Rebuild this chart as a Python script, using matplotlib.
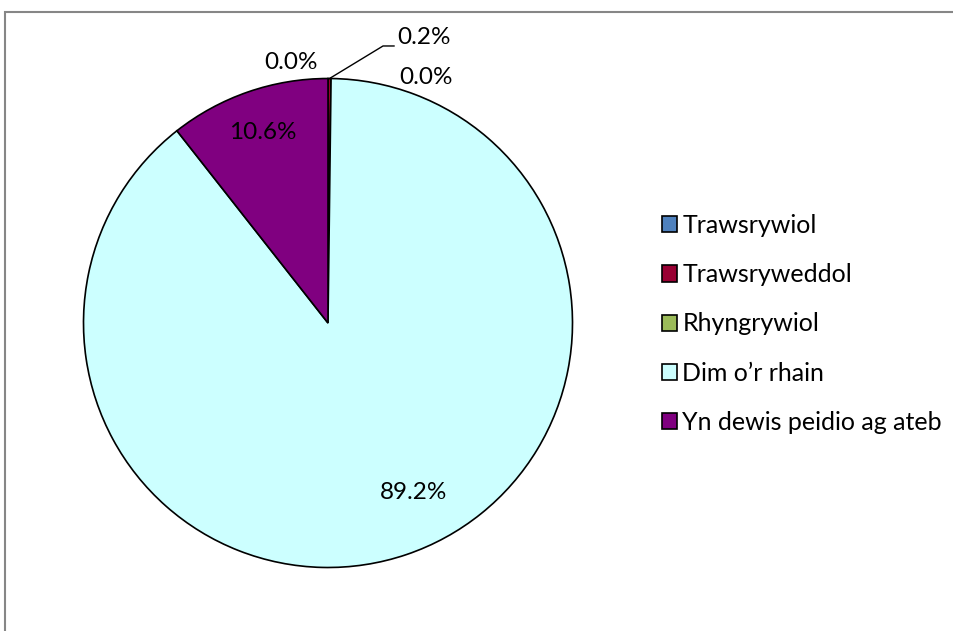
import matplotlib
matplotlib.use("Agg")
import matplotlib.pyplot as plt
from matplotlib.patches import Rectangle
import numpy as np

plt.rcParams.update({"font.family": ["Lato", "DejaVu Sans"], "font.size": 17.5})

# survey answers (percent)
categories = ["Trawsrywiol", "Trawsryweddol", "Rhyngrywiol",
              "Dim o\u2019r rhain", "Yn dewis peidio ag ateb"]
shares = [0.0, 0.2, 0.0, 89.2, 10.6]
colors = ["#4F81BD", "#990033", "#9BBB59", "#CCFFFF", "#800080"]

# label spots in pie units (radius = 1)
label_pos = [(-0.151, 1.067), (0.393, 1.166), (0.401, 1.006),
             (0.348, -0.695), (-0.266, 0.781)]

fig = plt.figure(figsize=(9.54, 6.31), dpi=100)

# outer chart border
fig.patches.append(Rectangle((5 / 954, -0.1), 1.2, 1.1 - 12 / 631,
                             transform=fig.transFigure, fill=False,
                             edgecolor="#868686", linewidth=1.5))

ax = fig.add_axes([83.5 / 954, 63.5 / 631, 489 / 954, 489 / 631])
wedges, _ = ax.pie(shares, colors=colors, startangle=90, counterclock=False,
                   wedgeprops={"edgecolor": "black", "linewidth": 1.2})
ax.set_xlim(-1, 1)
ax.set_ylim(-1, 1)
ax.set_aspect("equal")
ax.axis("off")

for i, (val, (lx, ly)) in enumerate(zip(shares, label_pos)):
    if i == 1:
        # small slice gets a leader line
        ang = np.deg2rad((wedges[i].theta1 + wedges[i].theta2) / 2)
        ax.plot([np.cos(ang), 0.225, 0.27], [np.sin(ang), 1.133, 1.133],
                color="black", linewidth=1, clip_on=False)
    ax.text(lx, ly, f"{val:.1f}%", ha="center", va="center", color="black")

leg = fig.legend(wedges, categories, loc="center left",
                 bbox_to_anchor=(662 / 954, 1 - 324 / 631), frameon=False,
                 fontsize=18, handlelength=0.62, handleheight=0.62,
                 handletextpad=0.2, labelspacing=1.05, borderpad=0,
                 borderaxespad=0)
for h in leg.legend_handles:
    h.set_linewidth(1.2)

fig.savefig("out.png", dpi=100)
